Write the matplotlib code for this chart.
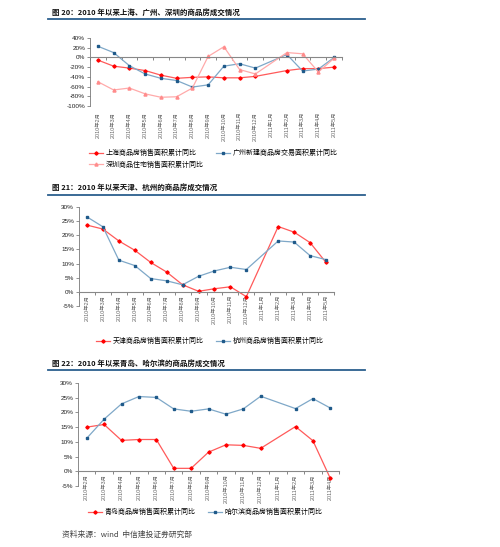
import numpy as np
import matplotlib.pyplot as plt
from matplotlib.ticker import FuncFormatter

plt.rcParams['font.family'] = ['Liberation Sans', 'Noto Sans CJK SC', 'DejaVu Sans']

# categories
months_16 = ['2010年2月', '2010年3月', '2010年4月', '2010年5月', '2010年6月', '2010年7月',
             '2010年8月', '2010年9月', '2010年10月', '2010年11月', '2010年12月',
             '2011年1月', '2011年2月', '2011年3月', '2011年4月', '2011年5月']
months_15 = months_16[:15]

nan = np.nan
# 图20 (%)
shanghai = [-5.5, -18, -22, -27, -36.5, -43, -41, -40, -42, -42, -39, nan, -27, -23, -23, -20]
guangzhou = [23, 10, -17, -34, -43, -47.5, -61, -56.5, -18, -13, -22, nan, 6, -28, -24, 0]
shenzhen = [-50, -67, -63, -75, -82, -81, -63, 2, 22, -25, -34, nan, 10, 7.5, -30, -1.5]
# 图21 (%)
tianjin = [23.6, 22.2, 18.0, 14.7, 10.4, 7.0, 2.5, 0.2, 1.1, 1.8, -1.7, nan, 23.1, 21.1, 17.4, 10.4]
hangzhou = [26.5, 23.0, 11.2, 9.3, 4.7, 3.9, 2.5, 5.5, 7.4, 8.7, 7.9, nan, 18.0, 17.6, 12.8, 11.4]
# 图22 (%)
qingdao = [15.0, 15.9, 10.5, 10.8, 10.8, 1.0, 1.0, 6.5, 9.0, 8.8, 7.8, nan, 15.2, 10.4, -2.4]
harbin = [11.2, 17.7, 22.9, 25.4, 25.1, 21.2, 20.4, 21.2, 19.4, 21.2, 25.5, nan, 21.3, 24.7, 21.5]

titles = ['图 20：2010 年以来上海、广州、深圳的商品房成交情况',
          '图 21：2010 年以来天津、杭州的商品房成交情况',
          '图 22：2010 年以来青岛、哈尔滨的商品房成交情况']

RED_L, RED_M = '#ff5a5a', '#ff0000'
BLUE_L, BLUE_M = '#7fa8c8', '#1f5a8a'
PINK_L, PINK_M = '#ffaaaa', '#ff8c8c'

W, H = 500, 547
fig = plt.figure(figsize=(W / 100, H / 100), dpi=100)


def fx(px):
    return px / W


def fy(py):
    return 1 - py / H


def header(title, ty, ly):
    fig.text(fx(52), fy(ty), title, fontsize=5.4, fontweight='bold',
             family=['Noto Sans CJK SC'], va='center', ha='left', color='#111111')
    fig.add_artist(plt.Line2D([fx(48), fx(365)], [fy(ly), fy(ly)], color='#2b5f8e', lw=1.3))


def series(ax, vals, lc, mc, marker, ms, label):
    y = np.array(vals, dtype=float)
    x = np.arange(len(y))
    ok = ~np.isnan(y)
    ax.plot(x[ok], y[ok], color=lc, lw=0.9, marker=marker, ms=ms,
            mfc=mc, mec=mc, label=label)


def setup(ax, cats, ylim, step, pad):
    n = len(cats)
    ax.set_xlim(-0.5, n - 0.5)
    ax.set_ylim(*ylim)
    ax.set_yticks(np.arange(ylim[0], ylim[1] + 0.1, step))
    ax.yaxis.set_major_formatter(FuncFormatter(lambda v, p: f'{v:.0f}%'))
    ax.tick_params(axis='y', labelsize=4.6, length=2, width=0.5, color='#666666',
                   pad=1.5, labelcolor='#222222')
    ax.spines['top'].set_visible(False)
    ax.spines['right'].set_visible(False)
    ax.spines['left'].set_color('#777777')
    ax.spines['left'].set_linewidth(0.6)
    ax.spines['bottom'].set_position(('data', 0))
    ax.spines['bottom'].set_color('#888888')
    ax.spines['bottom'].set_linewidth(0.8)
    ax.set_xticks(np.arange(-0.5, n, 1.0))
    ax.set_xticklabels([])
    ax.set_xticks(np.arange(n), minor=True)
    ax.set_xticklabels(cats, minor=True, rotation=90, fontsize=3.9,
                       family=['Liberation Sans', 'Noto Sans CJK SC'], color='#666666')
    ax.tick_params(axis='x', which='major', length=2, width=0.5, color='#555555', direction='out')
    ax.tick_params(axis='x', which='minor', length=0, pad=pad)
    ax.set_facecolor('none')


def legend(ax, handles, labels, lx, ly):
    ax.legend(handles, labels, loc='upper left', bbox_to_anchor=(fx(lx), fy(ly)),
              bbox_transform=fig.transFigure, ncol=2, frameon=False,
              prop={'family': ['Noto Sans CJK SC'], 'size': 5.0},
              handlelength=2.0, handletextpad=0.4, columnspacing=1.8,
              labelspacing=0.55, borderaxespad=0, borderpad=0)


# ---- 图20
header(titles[0], 12, 19)
ax1 = fig.add_axes([fx(90), fy(106), fx(342) - fx(90), fy(38) - fy(106)])
setup(ax1, months_16, (-100, 40), 20, 39)
series(ax1, shanghai, RED_L, RED_M, 'D', 1.7, '上海商品房销售面积累计同比')
series(ax1, guangzhou, BLUE_L, BLUE_M, 's', 2.0, '广州新建商品房交易面积累计同比')
series(ax1, shenzhen, PINK_L, PINK_M, '^', 2.2, '深圳商品住宅销售面积累计同比')
h, l = ax1.get_legend_handles_labels()
legend(ax1, [h[0], h[2], h[1]], [l[0], l[2], l[1]], 89, 149)

# ---- 图21
header(titles[1], 187, 195)
ax2 = fig.add_axes([fx(79), fy(306), fx(334) - fx(79), fy(207) - fy(306)])
setup(ax2, months_16, (-5, 30), 5, 2)
series(ax2, tianjin, RED_L, RED_M, 'D', 1.7, '天津商品房销售面积累计同比')
series(ax2, hangzhou, BLUE_L, BLUE_M, 's', 2.0, '杭州商品房销售面积累计同比')
h, l = ax2.get_legend_handles_labels()
legend(ax2, h, l, 96, 337)

# ---- 图22
header(titles[2], 363, 370)
ax3 = fig.add_axes([fx(78), fy(486), fx(339) - fx(78), fy(383) - fy(486)])
setup(ax3, months_15, (-5, 30), 5, 2)
series(ax3, qingdao, RED_L, RED_M, 'D', 1.7, '青岛商品房销售面积累计同比')
series(ax3, harbin, BLUE_L, BLUE_M, 's', 2.0, '哈尔滨商品房销售面积累计同比')
h, l = ax3.get_legend_handles_labels()
legend(ax3, h, l, 88, 508)

fig.text(fx(62), fy(535), '资料来源：wind  中信建投证券研究部', fontsize=5.6, style='italic',
         family=['Noto Sans CJK SC'], va='center', ha='left', color='#444444')

fig.savefig('out.png', dpi=100)
